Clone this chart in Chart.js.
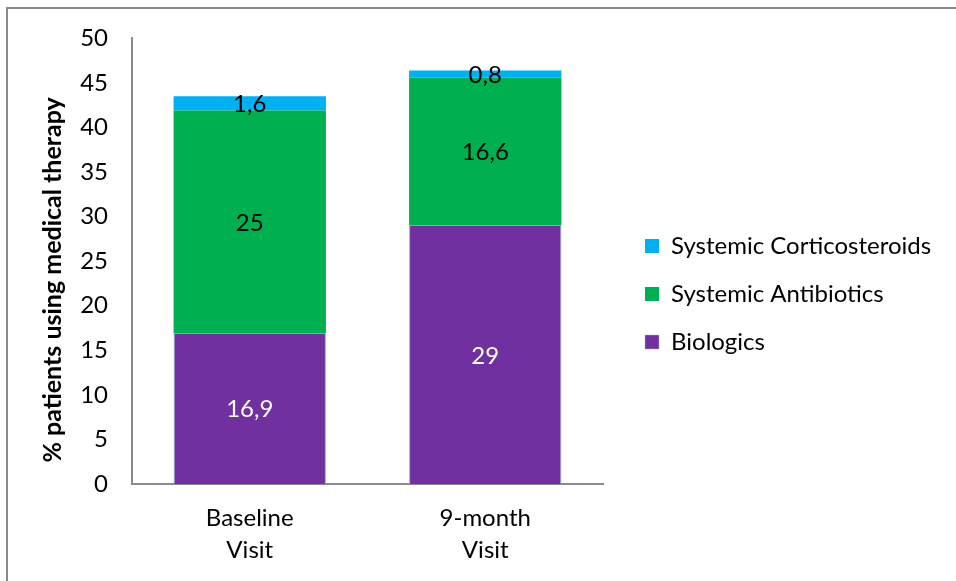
<!DOCTYPE html>
<html>
<head>
<meta charset="utf-8">
<script src="https://cdn.jsdelivr.net/npm/chart.js@4"></script>
<style>
  html, body { margin: 0; padding: 0; background: #fff; }
  #wrap { position: absolute; left: 0; top: 0; width: 956px; height: 581px; }
  #frame { position: absolute; left: 6px; top: 7px; right: -4px; bottom: -4px;
           border-top: 2px solid #8a8a8a; border-left: 2px solid #8a8a8a; pointer-events: none; }
</style>
</head>
<body>
<div id="wrap">
  <canvas id="chartTherapy" width="956" height="581"></canvas>
  <div id="frame"></div>
</div>
<script>
  const categories      = [['Baseline', 'Visit'], ['9-month', 'Visit']];
  const biologics       = [16.9, 29];
  const antibiotics     = [25, 16.6];
  const corticosteroids = [1.6, 0.8];
  const yTicks          = [0, 5, 10, 15, 20, 25, 30, 35, 40, 45, 50];

  const FONT = 'Lato, "Open Sans", sans-serif';
  const comma = v => String(v).replace('.', ',');

  /* ── data labels in the middle of each segment ─────────── */
  const segmentLabels = {
    id: 'segmentLabels',
    afterDatasetsDraw(chart) {
      const ctx = chart.ctx;
      ctx.save();
      ctx.font = '24px ' + FONT;
      ctx.textAlign = 'center';
      ctx.textBaseline = 'middle';
      chart.data.datasets.forEach((ds, i) => {
        chart.getDatasetMeta(i).data.forEach((bar, j) => {
          ctx.fillStyle = ds.labelColor;
          ctx.fillText(comma(ds.data[j]), bar.x, (bar.y + bar.base) / 2 + 1);
        });
      });
      ctx.restore();
    },
  };

  /* ── fixed legend box, placed like the original ─────────── */
  const legendPlace = {
    id: 'legendPlace',
    afterInit(chart) {
      const lg = chart.legend;
      const fit = lg.fit;
      lg.fit = function () { fit.call(this); this.width = 956 - 603; };
    },
    afterLayout(chart) {
      chart.legend.left = 645 - 24;
      chart.legend.top  = 210;
    },
  };

  new Chart(document.getElementById('chartTherapy'), {
    type: 'bar',
    data: {
      labels: categories,
      datasets: [
        { label: 'Biologics', data: biologics, backgroundColor: '#7030A0',
          borderColor: '#95B3D7', borderWidth: { left: 1, right: 1, top: 0, bottom: 0 },
          borderSkipped: false, labelColor: '#ffffff' },
        { label: 'Systemic Antibiotics', data: antibiotics, backgroundColor: '#00B050',
          borderWidth: 0, labelColor: '#000000' },
        { label: 'Systemic Corticosteroids', data: corticosteroids, backgroundColor: '#00B0F0',
          borderWidth: 0, labelColor: '#000000' },
      ],
    },
    options: {
      responsive: false,
      animation: false,
      devicePixelRatio: 1,
      layout: { padding: { top: 37, left: 0, right: 0, bottom: 0 } },
      datasets: { bar: { barPercentage: 0.647, categoryPercentage: 1 } },
      plugins: {
        legend: {
          position: 'right',
          align: 'start',
          reverse: true,
          labels: {
            boxWidth: 14, boxHeight: 14, padding: 24,
            color: '#000', font: { family: FONT, size: 24 },
          },
        },
        tooltip: { enabled: false },
      },
      scales: {
        x: {
          stacked: true,
          grid: { display: false, drawTicks: false },
          border: { display: true, color: '#8a8a8a', width: 2 },
          ticks: { color: '#000', padding: 18, font: { family: FONT, size: 24, lineHeight: 1.35 } },
          afterFit: s => { s.height = 581 - 484; },
        },
        y: {
          stacked: true,
          min: yTicks[0],
          max: yTicks[yTicks.length - 1],
          grid: { display: false, drawTicks: false },
          border: { display: true, color: '#8a8a8a', width: 2 },
          afterBuildTicks: s => { s.ticks = yTicks.map(v => ({ value: v })); },
          ticks: { color: '#000', padding: 24, font: { family: FONT, size: 24 } },
          title: {
            display: true,
            text: '% patients using medical therapy\u2002\u2002\u2002',
            color: '#000',
            font: { family: FONT, size: 25, weight: 'bold' },
            padding: { top: 38, bottom: 0 },
          },
          afterFit: s => { s.width = 132; },
        },
      },
    },
    plugins: [segmentLabels, legendPlace],
  });
</script>
</body>
</html>
